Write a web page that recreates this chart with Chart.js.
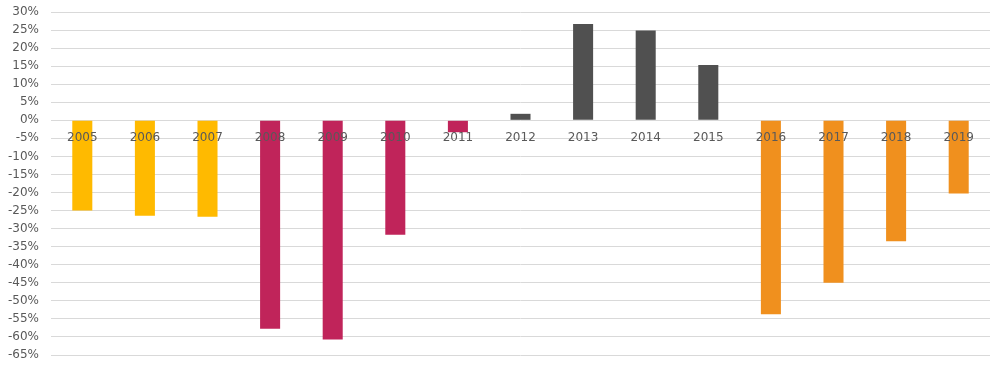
<!DOCTYPE html>
<html>
<head>
<meta charset="utf-8">
<script src="https://cdn.jsdelivr.net/npm/chart.js@4"></script>
<style>
  html, body { margin: 0; padding: 0; background: #fff; }
  #wrap { width: 1000px; height: 368px; }
</style>
</head>
<body>
<div id="wrap"><canvas id="myChart"></canvas></div>
<script>
// years on the x axis
var years = ["2005","2006","2007","2008","2009","2010","2011","2012","2013","2014","2015","2016","2017","2018","2019"];
// yearly change, in percent
var values = [-25.0, -26.4, -26.7, -57.7, -60.7, -31.7, -3.3, 1.8, 26.7, 24.9, 15.3, -53.7, -45.0, -33.5, -20.3];
// colour per period
var barColors = ["#FFBA00","#FFBA00","#FFBA00","#C0245A","#C0245A","#C0245A","#C0245A","#505050","#505050","#505050","#505050","#F0901E","#F0901E","#F0901E","#F0901E"];

var yMin = -65;
var yMax = 30;
var yStep = 5;

var canvas = document.getElementById('myChart');
var myChart = new Chart(canvas.getContext('2d'),
{
    type: "bar",
    data:
    {
        labels: years,
        datasets:
        [{
            backgroundColor: barColors,
            data: values,
            barPercentage: 0.32,
            categoryPercentage: 1.0
        }]
    },
    options:
    {
        responsive: true,
        maintainAspectRatio: false,
        animation: false,
        layout: {padding: {left: 6, right: 10, top: 12, bottom: 13}},
        plugins: {legend: {display: false}, tooltip: {enabled: false}},
        scales:
        {
            x: {
                position: {y: 0},
                grid: {display: false, drawTicks: false},
                border: {display: false},
                // labels sit on top of the bars
                ticks: {z: 1, color: "#595959", font: {family: "DejaVu Sans", size: 12}, padding: 10, maxRotation: 0}
            },
            y: {
                min: yMin,
                max: yMax,
                // invisible tick marks make the gap between labels and grid
                grid: {color: "#d9d9d9", lineWidth: 1, drawTicks: true, tickLength: 10, tickColor: "rgba(0,0,0,0)"},
                border: {display: false},
                ticks: {
                    stepSize: yStep,
                    color: "#595959",
                    font: {family: "DejaVu Sans", size: 12},
                    padding: 2,
                    callback: function(v) { return v + "%"; }
                }
            }
        }
    }
});
</script>
</body>
</html>
